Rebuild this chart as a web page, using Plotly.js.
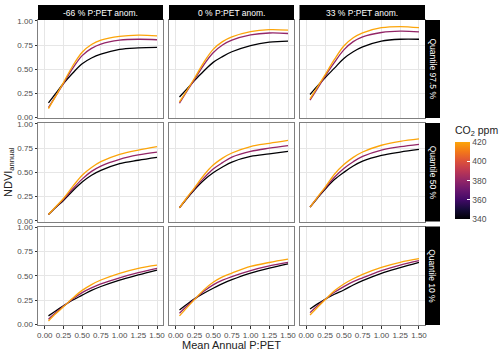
<!DOCTYPE html>
<html>
<head>
<meta charset="utf-8">
<script src="https://cdn.plot.ly/plotly-3.0.1.min.js"></script>
<style>
  html, body { margin: 0; padding: 0; background: white; }
  #myDiv { width: 500px; height: 351px; }
</style>
</head>
<body>
<div id="myDiv"></div>
<script>
// mean annual P:PET sample points
var pet = [0.05, 0.15, 0.25, 0.375, 0.5, 0.625, 0.75, 1.0, 1.25, 1.5];
var co2Levels = [340, 380, 420];
var anomLabels = ['-66 % P:PET anom.', '0 % P:PET anom.', '33 % P:PET anom.'];
var quantLabels = ['Quantile 97.5 %', 'Quantile 50 %', 'Quantile 10 %'];
var co2Ticks = [340, 360, 380, 400, 420];
var yTicks = [0, 0.25, 0.5, 0.75, 1.0];
var xTicks = [0, 0.25, 0.5, 0.75, 1.0, 1.25, 1.5];

// NDVI per panel, one row per CO2 level (340, 380, 420)
var q975_m66 = [
  [0.15, 0.25, 0.35, 0.46, 0.555, 0.615, 0.655, 0.705, 0.72, 0.725],
  [0.10, 0.225, 0.35, 0.51, 0.64, 0.715, 0.76, 0.80, 0.81, 0.805],
  [0.09, 0.225, 0.36, 0.535, 0.675, 0.755, 0.80, 0.84, 0.853, 0.846]
];
var q975_p0 = [
  [0.21, 0.295, 0.38, 0.48, 0.57, 0.63, 0.68, 0.745, 0.78, 0.79],
  [0.145, 0.27, 0.39, 0.545, 0.67, 0.75, 0.80, 0.855, 0.875, 0.87],
  [0.16, 0.28, 0.405, 0.57, 0.705, 0.785, 0.835, 0.89, 0.91, 0.905]
];
var q975_p33 = [
  [0.236, 0.325, 0.41, 0.51, 0.61, 0.68, 0.73, 0.79, 0.81, 0.81],
  [0.178, 0.30, 0.425, 0.57, 0.70, 0.785, 0.835, 0.88, 0.894, 0.887],
  [0.19, 0.315, 0.44, 0.60, 0.74, 0.825, 0.877, 0.93, 0.942, 0.93]
];
var q50_m66 = [
  [0.065, 0.14, 0.21, 0.31, 0.40, 0.47, 0.52, 0.59, 0.625, 0.655],
  [0.065, 0.143, 0.22, 0.33, 0.43, 0.51, 0.565, 0.635, 0.68, 0.71],
  [0.065, 0.147, 0.23, 0.355, 0.47, 0.55, 0.61, 0.685, 0.73, 0.765]
];
var q50_p0 = [
  [0.134, 0.23, 0.32, 0.418, 0.495, 0.555, 0.606, 0.664, 0.69, 0.716],
  [0.134, 0.235, 0.33, 0.44, 0.534, 0.60, 0.657, 0.716, 0.75, 0.777],
  [0.134, 0.24, 0.34, 0.47, 0.575, 0.647, 0.70, 0.767, 0.80, 0.83]
];
var q50_p33 = [
  [0.14, 0.235, 0.325, 0.425, 0.50, 0.565, 0.615, 0.675, 0.71, 0.737],
  [0.14, 0.24, 0.335, 0.45, 0.54, 0.61, 0.665, 0.73, 0.765, 0.79],
  [0.14, 0.245, 0.345, 0.48, 0.58, 0.655, 0.71, 0.78, 0.82, 0.845]
];
var q10_m66 = [
  [0.086, 0.14, 0.19, 0.25, 0.30, 0.35, 0.39, 0.457, 0.51, 0.56],
  [0.052, 0.12, 0.185, 0.26, 0.327, 0.375, 0.416, 0.48, 0.533, 0.578],
  [0.034, 0.11, 0.18, 0.27, 0.35, 0.41, 0.457, 0.526, 0.578, 0.61]
];
var q10_p0 = [
  [0.148, 0.207, 0.262, 0.32, 0.372, 0.42, 0.46, 0.528, 0.58, 0.624],
  [0.114, 0.188, 0.258, 0.34, 0.407, 0.455, 0.493, 0.555, 0.603, 0.64],
  [0.086, 0.172, 0.254, 0.355, 0.434, 0.49, 0.528, 0.597, 0.638, 0.672]
];
var q10_p33 = [
  [0.158, 0.21, 0.258, 0.31, 0.354, 0.405, 0.45, 0.526, 0.585, 0.64],
  [0.12, 0.19, 0.255, 0.33, 0.389, 0.44, 0.48, 0.554, 0.612, 0.657],
  [0.096, 0.176, 0.252, 0.345, 0.416, 0.47, 0.516, 0.588, 0.64, 0.677]
];

var panels = [
  q975_m66, q975_p0, q975_p33,
  q50_m66, q50_p0, q50_p33,
  q10_m66, q10_p0, q10_p33
];

// inferno, cut at 0.8
var inferno = [
  [0, '#000004'], [0.125, '#160b39'], [0.25, '#420a68'], [0.375, '#6a176e'],
  [0.5, '#932667'], [0.625, '#bc3754'], [0.75, '#dd513a'], [0.875, '#f37819'],
  [1, '#fca50a']
];
var lineColors = ['#000004', '#932667', '#fca50a'];

var W = 500, H = 351;
function px(x) { return x / W; }
function py(y) { return 1 - y / H; }

var colPx = [[38, 163], [169, 294], [299.5, 425]];
var rowPx = [[20, 118], [123, 221.5], [226.5, 325]];

var font = 'Liberation Sans, Arial, sans-serif';
var tickFont = {family: font, size: 8, color: '#4d4d4d'};

var data = [];
var layout = {
  width: W, height: H,
  margin: {l: 0, r: 0, t: 0, b: 0},
  paper_bgcolor: 'white',
  plot_bgcolor: 'white',
  showlegend: false,
  font: {family: font, color: '#222'},
  shapes: [],
  annotations: []
};

for (var k = 0; k < 9; k++) {
  var r = Math.floor(k / 3), c = k % 3;
  var xa = k === 0 ? 'x' : 'x' + (k + 1);
  var ya = k === 0 ? 'y' : 'y' + (k + 1);
  for (var i = 0; i < co2Levels.length; i++) {
    data.push({
      type: 'scatter', mode: 'lines',
      x: pet, y: panels[k][i],
      xaxis: xa, yaxis: ya,
      line: {color: lineColors[i], width: 1.3, shape: 'spline', smoothing: 1},
      hoverinfo: 'skip'
    });
  }
  var axName = k === 0 ? '' : String(k + 1);
  layout['xaxis' + axName] = {
    domain: [px(colPx[c][0]), px(colPx[c][1])],
    anchor: ya,
    range: [-0.09, 1.58],
    tickvals: xTicks,
    ticktext: xTicks.map(function (v) { return v.toFixed(2); }),
    tickangle: 0,
    showticklabels: r === 2,
    ticks: r === 2 ? 'outside' : '',
    ticklen: 2.5, tickcolor: '#333',
    tickfont: tickFont,
    showgrid: true, gridcolor: '#e6e6e6', gridwidth: 1,
    zeroline: false,
    showline: true, mirror: true, linecolor: '#7f7f7f', linewidth: 1
  };
  layout['yaxis' + axName] = {
    domain: [py(rowPx[r][1]), py(rowPx[r][0])],
    anchor: xa,
    range: [-0.008, 1.01],
    tickvals: yTicks,
    ticktext: yTicks.map(function (v) { return v.toFixed(2); }),
    showticklabels: c === 0,
    ticks: c === 0 ? 'outside' : '',
    ticklen: 2.5, tickcolor: '#333',
    tickfont: tickFont,
    showgrid: true, gridcolor: '#e6e6e6', gridwidth: 1,
    zeroline: false,
    showline: true, mirror: true, linecolor: '#7f7f7f', linewidth: 1
  };
}

// facet strips
for (var c2 = 0; c2 < 3; c2++) {
  layout.shapes.push({
    type: 'rect', xref: 'paper', yref: 'paper', layer: 'above',
    x0: px(colPx[c2][0]), x1: px(colPx[c2][1]), y0: py(20), y1: py(5),
    fillcolor: 'black', line: {width: 0}
  });
  layout.annotations.push({
    xref: 'paper', yref: 'paper', showarrow: false,
    x: px((colPx[c2][0] + colPx[c2][1]) / 2), y: py(12.5),
    xanchor: 'center', yanchor: 'middle',
    text: anomLabels[c2],
    font: {family: font, size: 8.5, color: 'white'}
  });
}
for (var r2 = 0; r2 < 3; r2++) {
  layout.shapes.push({
    type: 'rect', xref: 'paper', yref: 'paper', layer: 'above',
    x0: px(425), x1: px(440), y0: py(rowPx[r2][1]), y1: py(rowPx[r2][0]),
    fillcolor: 'black', line: {width: 0}
  });
  layout.annotations.push({
    xref: 'paper', yref: 'paper', showarrow: false,
    x: px(432.5), y: py((rowPx[r2][0] + rowPx[r2][1]) / 2),
    xanchor: 'center', yanchor: 'middle',
    text: quantLabels[r2], textangle: 90,
    font: {family: font, size: 8.5, color: 'white'}
  });
}

// axis titles
layout.annotations.push({
  xref: 'paper', yref: 'paper', showarrow: false,
  x: px(231), y: py(344.5), xanchor: 'center', yanchor: 'middle',
  text: 'Mean Annual P:PET',
  font: {family: font, size: 11, color: '#222'}
});
layout.annotations.push({
  xref: 'paper', yref: 'paper', showarrow: false,
  x: px(9), y: py(172), xanchor: 'center', yanchor: 'middle',
  text: 'NDVI<sub>annual</sub>', textangle: -90,
  font: {family: font, size: 11, color: '#222'}
});

// colour bar for CO2
data.push({
  type: 'scatter', mode: 'markers',
  x: [-5, -5], y: [-5, -5],
  xaxis: 'x', yaxis: 'y',
  hoverinfo: 'skip',
  marker: {
    color: [co2Levels[0], co2Levels[co2Levels.length - 1]],
    cmin: 340, cmax: 420,
    colorscale: inferno,
    showscale: true,
    colorbar: {
      x: px(455), xanchor: 'left', xpad: 0,
      y: py(219), yanchor: 'bottom', ypad: 0,
      thickness: 15, thicknessmode: 'pixels',
      len: 96, lenmode: 'pixels',
      outlinewidth: 0,
      tickvals: co2Ticks,
      ticks: 'inside', ticklen: 3, tickcolor: 'white',
      tickfont: {family: font, size: 8.5, color: '#4d4d4d'},
      title: {text: 'CO<sub>2</sub> ppm', side: 'top', font: {family: font, size: 10.5, color: '#222'}}
    }
  }
});

Plotly.newPlot('myDiv', data, layout, {staticPlot: true});
</script>
</body>
</html>
